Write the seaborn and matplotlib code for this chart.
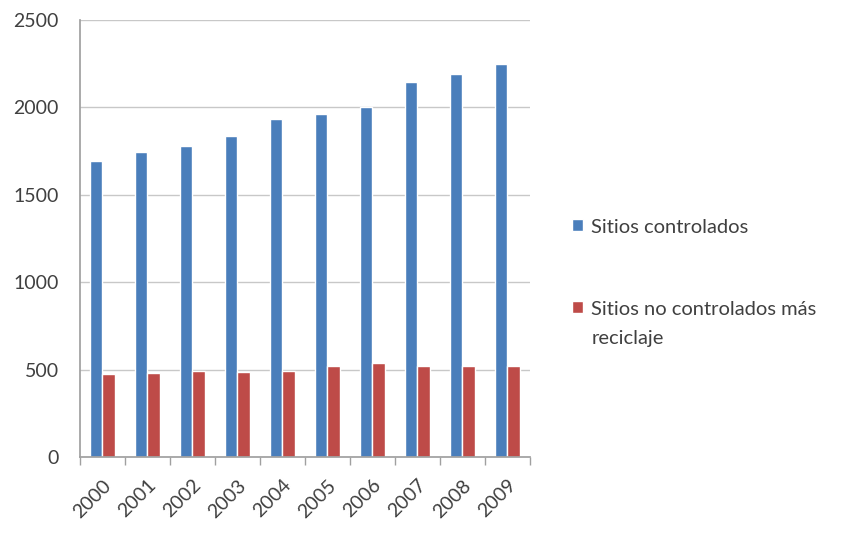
import pandas as pd
import seaborn as sns
import matplotlib.pyplot as plt

years = ["2000", "2001", "2002", "2003", "2004", "2005", "2006", "2007", "2008", "2009"]
controlados = [1695, 1743, 1777, 1834, 1935, 1964, 2000, 2143, 2193, 2250]
no_controlados = [475, 479, 494, 488, 494, 521, 539, 521, 521, 524]

serie_1 = "Sitios controlados"
serie_2 = "Sitios no controlados más\nreciclaje"

df = pd.DataFrame({
    "year": years * 2,
    "value": controlados + no_controlados,
    "serie": [serie_1] * len(years) + [serie_2] * len(years),
})

sns.set_theme(style="white")
plt.rcParams["font.family"] = ["Lato", "DejaVu Sans"]

fig = plt.figure(figsize=(8.48, 5.41), dpi=100)
ax = fig.add_axes([0.094, 0.155, 0.531, 0.808])

sns.barplot(
    data=df,
    x="year",
    y="value",
    hue="serie",
    palette=["#4A7EBB", "#BE4B48"],
    width=0.55,
    saturation=1,
    ax=ax,
)

ax.set_ylim(0, 2500)
ax.set_yticks([0, 500, 1000, 1500, 2000, 2500])
ax.yaxis.grid(True, color="#c8c8c8", linewidth=1)
ax.set_axisbelow(True)
ax.set_xlabel("")
ax.set_ylabel("")

for s in ["top", "right"]:
    ax.spines[s].set_visible(False)
ax.spines["left"].set_color("#a0a0a0")
ax.spines["bottom"].set_color("#a0a0a0")

# ticks between categories
ax.set_xticks([i - 0.5 for i in range(len(years) + 1)], minor=True)
ax.tick_params(axis="x", which="minor", length=6, color="#a0a0a0", direction="out", bottom=True)
ax.tick_params(axis="x", which="major", length=0, labelsize=14, colors="#404040", pad=14)
ax.tick_params(axis="y", length=0, labelsize=14, colors="#404040", pad=15)
plt.setp(ax.get_xticklabels(), rotation=45, ha="right", rotation_mode="anchor")
ax.set_xlim(-0.5, len(years) - 0.5)

handles, labels = ax.get_legend_handles_labels()
leg = ax.legend(
    handles,
    labels,
    loc="upper left",
    bbox_to_anchor=(1.076, 0.563),
    borderaxespad=0,
    frameon=False,
    fontsize=14.5,
    handlelength=0.55,
    handleheight=0.55,
    handletextpad=0.4,
    labelspacing=3.2,
    labelcolor="#404040",
)
for t in leg.get_texts():
    t.set_linespacing(1.9)
for col in leg._legend_handle_box.get_children():
    for item in col.get_children():
        item.align = "top"

fig.savefig("out.png", dpi=100)
